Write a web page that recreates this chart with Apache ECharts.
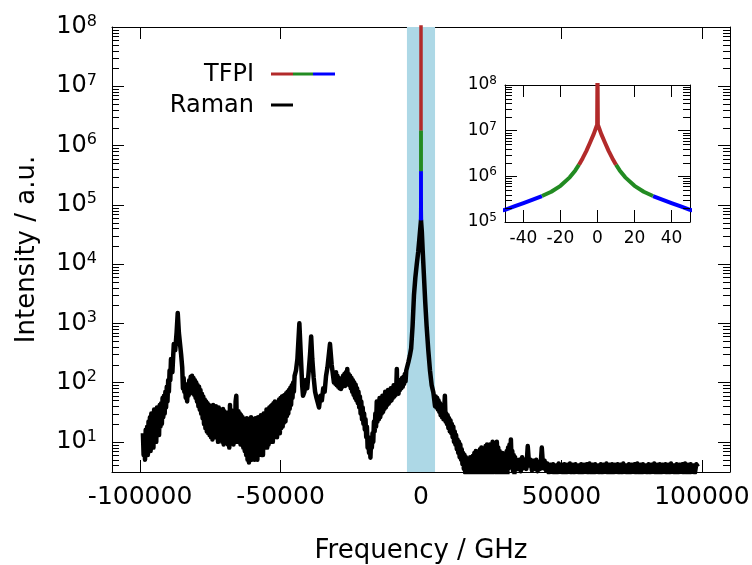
<!DOCTYPE html>
<html><head><meta charset="utf-8">
<script src="https://cdn.jsdelivr.net/npm/echarts@6/dist/echarts.min.js"></script>
<style>html,body{margin:0;padding:0;background:#fff}#c{width:752px;height:565px}</style>
</head><body><div id="c"></div>
<script>
const FONT = 'DejaVu Sans';

// Raman spectrum: [frequency GHz, intensity a.u.]
const ramanData = [
[-99000,14],[-98750,6],[-98500,12],[-98250,5],[-98000,16],[-97750,7],[-97500,18],[-97250,6],[-97000,22],[-96750,8],
[-96500,26],[-96250,7],[-96000,30],[-95750,9],[-95500,28],[-95250,8],[-95000,35],[-94750,11],[-94500,32],[-94250,10],
[-94000,38],[-93750,14],[-93500,36],[-93250,13],[-93000,42],[-92750,18],[-92500,45],[-92250,20],[-92000,55],[-91750,26],
[-91500,60],[-91250,30],[-91000,70],[-90750,38],[-90500,85],[-90250,48],[-90000,110],[-89750,70],[-89500,160],[-89250,110],
[-89000,250],[-88500,150],[-88000,450],[-87500,350],[-87000,700],[-86600,1500],[-86200,700],[-85800,650],[-85400,300],[-85000,180],
[-84750,80],[-84500,120],[-84250,70],[-84000,90],[-83750,55],[-83500,75],[-83250,48],[-83000,95],[-82750,60],[-82500,110],
[-82250,65],[-82000,125],[-81750,75],[-81500,130],[-81250,70],[-81000,120],[-80750,62],[-80500,110],[-80250,55],[-80000,100],
[-79750,48],[-79500,90],[-79250,40],[-79000,85],[-78750,35],[-78500,75],[-78250,30],[-78000,65],[-77750,25],[-77500,58],
[-77250,20],[-77000,52],[-76750,17],[-76500,48],[-76250,15],[-76000,45],[-75750,14],[-75500,42],[-75250,13],[-75000,40],
[-74750,12],[-74500,38],[-74250,11],[-74000,42],[-73750,14],[-73500,36],[-73250,12],[-73000,40],[-72750,13],[-72500,35],
[-72250,10],[-72000,38],[-71750,12],[-71500,34],[-71250,11],[-71000,32],[-70750,10],[-70500,36],[-70250,9],[-70000,33],
[-69750,12],[-69500,30],[-69250,10],[-69000,31],[-68750,9],[-68500,28],[-68250,8],[-68000,42],[-67750,11],[-67500,34],
[-67250,10],[-67000,32],[-66750,9],[-66500,30],[-66250,10],[-66000,48],[-65750,60],[-65500,12],[-65250,10],[-65000,33],
[-64750,12],[-64500,30],[-64250,9],[-64000,28],[-63750,10],[-63500,26],[-63250,8],[-63000,24],[-62750,7],[-62500,22],
[-62250,6],[-62000,25],[-61750,5],[-61500,20],[-61250,4.5],[-61000,24],[-60750,6],[-60500,26],[-60250,5],[-60000,22],
[-59750,6],[-59500,20],[-59250,5],[-59000,25],[-58750,7],[-58500,22],[-58250,5],[-58000,26],[-57750,6],[-57500,24],
[-57250,7],[-57000,28],[-56750,6],[-56500,25],[-56250,6],[-56000,30],[-55750,8],[-55500,26],[-55250,9],[-55000,35],
[-54750,8],[-54500,32],[-54250,9],[-54000,38],[-53750,10],[-53500,40],[-53250,11],[-53000,42],[-52750,10],[-52500,45],
[-52250,12],[-52000,48],[-51750,13],[-51500,46],[-51250,12],[-51000,44],[-50750,15],[-50500,52],[-50250,14],[-50000,55],
[-49750,17],[-49500,58],[-49250,18],[-49000,60],[-48750,21],[-48500,62],[-48250,22],[-48000,66],[-47750,27],[-47500,70],
[-47250,30],[-47000,75],[-46750,36],[-46500,82],[-46250,42],[-46000,90],[-45750,55],[-45500,100],[-45250,70],[-45000,130],
[-44500,160],[-44000,250],[-43300,1000],[-42800,300],[-42300,90],[-42000,60],[-41500,70],[-41000,110],[-40500,80],[-40000,150],
[-39500,300],[-39100,600],[-38700,250],[-38200,120],[-37700,70],[-37200,55],[-36700,45],[-36300,38],[-35800,60],[-35300,50],
[-34800,80],[-34300,70],[-33800,130],[-33300,180],[-32400,450],[-31800,200],[-31300,130],[-31000,100],[-30750,140],[-30500,95],
[-30250,150],[-30000,90],[-29750,130],[-29500,85],[-29250,120],[-29000,80],[-28750,115],[-28500,78],[-28250,110],[-28000,85],
[-27750,130],[-27500,90],[-27250,140],[-27000,88],[-26750,150],[-26500,95],[-26250,170],[-26000,100],[-25750,140],[-25500,90],
[-25250,130],[-25000,80],[-24750,120],[-24500,70],[-24250,110],[-24000,62],[-23750,100],[-23500,55],[-23250,92],[-23000,50],
[-22750,80],[-22500,45],[-22250,70],[-22000,38],[-21750,58],[-21500,30],[-21250,48],[-21000,24],[-20750,38],[-20500,20],
[-20250,30],[-20000,16],[-19750,24],[-19500,12],[-19250,18],[-19000,8],[-18750,12],[-18500,6.5],[-18250,10],[-18000,5.4],
[-17750,11],[-17500,8],[-17250,14],[-17000,10],[-16750,22],[-16500,15],[-16250,30],[-16000,18],[-15750,48],[-15500,22],
[-15250,45],[-15000,24],[-14750,55],[-14500,26],[-14250,50],[-14000,30],[-13750,60],[-13500,32],[-13250,58],[-13000,36],
[-12750,70],[-12500,38],[-12250,66],[-12000,42],[-11750,75],[-11500,44],[-11250,72],[-11000,48],[-10750,80],[-10500,50],
[-10250,78],[-10000,55],[-9750,90],[-9500,58],[-9250,85],[-9000,62],[-8750,100],[-8600,170],[-8450,70],[-8250,95],
[-8000,65],[-7750,110],[-7500,75],[-7250,105],[-7000,80],[-6750,120],[-6500,85],[-6250,125],[-6000,95],[-5750,140],
[-5500,105],[-5250,160],[-5000,150],[-4500,220],[-4000,280],[-3500,380],[-3000,900],[-2500,3000],[-2000,6000],[-1500,10000],
[-1000,16000],[-600,26000],[-300,38000],[0,55000],[300,35000],[600,17000],[1000,7000],[1500,2300],[2000,900],[2600,350],
[3200,160],[3800,90],[4400,68],[5000,40],[5250,58],[5500,38],[5750,55],[6000,35],[6250,50],[6500,32],
[6750,45],[7000,28],[7250,42],[7500,26],[7750,38],[8000,24],[8250,35],[8500,60],[8750,22],[9000,30],
[9250,20],[9500,28],[9750,17],[10000,25],[10250,15],[10500,23],[10750,14],[11000,20],[11250,12],[11500,18],
[11750,10],[12000,15],[12250,9],[12500,13],[12750,7.5],[13000,11],[13250,6.5],[13500,10],[13750,5.5],[14000,9],
[14250,5],[14500,7.5],[14750,4.2],[15000,6.5],[15250,3.5],[15500,6],[15750,3],[16000,5.5],[16250,2.8],[16500,5],
[16750,2.6],[17000,5.2],[17250,2.5],[17500,5.5],[17750,3],[18000,5],[18250,2.6],[18500,5.8],[18750,2.8],[19000,6.5],
[19250,3],[19500,7],[19750,2.7],[20000,6],[20250,3.2],[20500,6.8],[20750,2.5],[21000,7.5],[21250,3],[21500,8],
[21750,3.4],[22000,7.5],[22250,2.8],[22500,7],[22750,3.1],[23000,8.5],[23250,2.7],[23500,9],[23750,3.3],[24000,8.5],
[24250,2.9],[24500,9],[24750,3.5],[25000,8],[25250,2.6],[25500,10],[25750,3.2],[26000,8.5],[26250,3.6],[26500,9],
[26750,3],[27000,10],[27250,3.5],[27500,8],[27750,2.8],[28000,7],[28250,3.3],[28500,6.5],[28750,2.6],[29000,6.5],
[29250,3.1],[29500,6.2],[29750,2.8],[30000,6],[30250,3.4],[30500,7],[30750,2.9],[31000,8],[31250,3.6],[31500,9],
[31750,4],[32000,11],[32250,4.5],[32500,7],[32750,3.2],[33000,6],[33250,2.9],[33500,5.5],[33750,3.4],[34000,5],
[34500,3.5],[35000,5],[35500,3.2],[36000,5.5],[36500,3.6],[37000,5],[37500,3.5],[38000,8.5],[38500,4],
[39000,5],[39500,3.3],[40000,4.8],[40500,3.5],[41000,5],[41500,3.2],[42000,4.6],[42500,3.5],[43000,8],[43500,3.6],
[44000,4.8],[44500,3.3],[45000,4.3],[45500,3.0],[46000,4.1],[46500,3.1],[47000,4.2],[47500,2.9],[48000,4.0],[48500,3.0],
[49000,4.3],[49500,3.1],[50000,4.1],[50500,3.0],[51000,4.2],[51500,2.9],[52000,4.1],[52500,3.1],[53000,4.3],[53500,3.0],
[54000,4.1],[54500,3.0],[55000,4.2],[55500,3.1],[56000,4.0],[56500,2.9],[57000,4.2],[57500,3.0],[58000,4.1],[58500,3.1],
[59000,4.2],[59500,3.0],[60000,4.3],[60500,3.0],[61000,4.1],[61500,2.9],[62000,4.2],[62500,3.1],[63000,4.0],[63500,3.0],
[64000,4.2],[64500,3.0],[65000,4.1],[65500,3.1],[66000,4.3],[66500,3.0],[67000,4.1],[67500,2.9],[68000,4.2],[68500,3.0],
[69000,4.1],[69500,3.1],[70000,4.2],[70500,3.0],[71000,4.1],[71500,3.0],[72000,4.3],[72500,3.1],[73000,4.0],[73500,2.9],
[74000,4.2],[74500,3.0],[75000,4.1],[75500,3.1],[76000,4.2],[76500,3.0],[77000,4.3],[77500,3.0],[78000,4.1],[78500,2.9],
[79000,4.2],[79500,3.1],[80000,4.0],[80500,3.0],[81000,4.2],[81500,3.0],[82000,4.1],[82500,3.1],[83000,4.3],[83500,3.0],
[84000,4.1],[84500,2.9],[85000,4.2],[85500,3.0],[86000,4.1],[86500,3.1],[87000,4.2],[87500,3.0],[88000,4.1],[88500,3.0],
[89000,4.3],[89500,3.1],[90000,4.0],[90500,2.9],[91000,4.2],[91500,3.0],[92000,4.1],[92500,3.1],[93000,4.2],[93500,3.0],
[94000,4.3],[94500,3.0],[95000,4.1],[95500,2.9],[96000,4.2],[96500,3.1],[97000,4.0],[97500,3.0],[98000,4.2],[98600,3.8]
];

// TFPI spectrum pieces: [frequency GHz, intensity a.u.]
const tfpiRed = [[-10,1.8e6],[-8,2.5e6],[-6,3.6e6],[-4,5.5e6],[-2,8.5e6],[-1,1.1e7],[-0.2,1.35e7],[0,3e8],[0.2,1.35e7],[1,1.1e7],[2,8.5e6],[4,5.5e6],[6,3.6e6],[8,2.5e6],[10,1.8e6]];
const tfpiGreenL = [[-30,3.7e5],[-25,4.6e5],[-20,6.2e5],[-15,9.5e5],[-12,1.35e6],[-10,1.8e6]];
const tfpiGreenR = [[10,1.8e6],[12,1.35e6],[15,9.5e5],[20,6.2e5],[25,4.6e5],[30,3.7e5]];
const tfpiBlueL = [[-150,5.5e4],[-100,8.5e4],[-70,1.3e5],[-50,1.85e5],[-45,2.2e5],[-40,2.6e5],[-35,3.1e5],[-30,3.7e5]];
const tfpiBlueR = [[30,3.7e5],[35,3.1e5],[40,2.6e5],[45,2.2e5],[50,1.85e5],[70,1.3e5],[100,8.5e4],[150,5.5e4]];

const filterBand = [-5000, 5000];
const minorMantissas = [2,3,4,5,6,7,8,9];
const mainDecades = [1,10,100,1e3,1e4,1e5,1e6,1e7];
const insetDecades = [1e5,1e6,1e7];

const MAIN_X = [-110000, 110000], MAIN_Y = [3.1, 1e8];
const INSET_X = [-50, 50], INSET_Y = [1e5, 1e8];

const RED = '#b22a2a', GREEN = '#228b22', BLUE = '#0000ff';

function minorList(decades, lo, hi) {
  const out = [];
  decades.forEach(d => minorMantissas.forEach(m => { const v = m * d; if (v > lo && v < hi) out.push(v); }));
  return out;
}
const mainMinor = minorList(mainDecades, MAIN_Y[0], MAIN_Y[1]);
const insetMinor = minorList(insetDecades, INSET_Y[0], INSET_Y[1]);

function powLabel(v) {
  const e = Math.round(Math.log10(v));
  if (Math.abs(v / Math.pow(10, e) - 1) > 1e-6) return '';
  return '{b|10}{s|' + e + '}';
}

function xAxisDef(grid, pos, range, show, fs, margin) {
  return {
    type: 'value', gridIndex: grid, position: pos, min: range[0], max: range[1],
    axisLine: { show: true, onZero: false, lineStyle: { color: '#000', width: 1 } },
    axisTick: { show: true, inside: true, length: 12, lineStyle: { color: '#000' } },
    splitLine: { show: false },
    axisLabel: {
      show: show, fontFamily: FONT, fontSize: fs, color: '#000', margin: margin,
      showMinLabel: false, showMaxLabel: false,
      formatter: v => (Math.abs(v) < Math.abs(range[1]) - 1e-9 ? String(v) : '')
    }
  };
}
function yAxisDef(grid, pos, range, show, fs, sfs, margin) {
  return {
    type: 'log', logBase: 10, gridIndex: grid, position: pos, min: range[0], max: range[1],
    axisLine: { show: true, onZero: false, lineStyle: { color: '#000', width: 1 } },
    axisTick: { show: true, inside: true, length: 12, lineStyle: { color: '#000' } },
    splitLine: { show: false }, minorTick: { show: false },
    axisLabel: {
      show: show, fontFamily: FONT, color: '#000', margin: margin,
      formatter: powLabel,
      rich: {
        b: { fontFamily: FONT, fontSize: fs, color: '#000' },
        s: { fontFamily: FONT, fontSize: sfs, color: '#000', verticalAlign: 'top', padding: [0, 0, Math.round(fs * 0.45), 0] }
      }
    }
  };
}

function minorSeries(xi, yi, values, xr) {
  return {
    type: 'custom', xAxisIndex: xi, yAxisIndex: yi, silent: true, z: 5, clip: false,
    data: values.map(v => [0, v]),
    renderItem: (params, api) => {
      const v = api.value(1);
      const pl = api.coord([xr[0], v]);
      const pr = api.coord([xr[1], v]);
      const y = Math.round(pl[1]) + 0.5;
      return { type: 'group', children: [
        { type: 'line', shape: { x1: pl[0], y1: y, x2: pl[0] + 7, y2: y }, style: { stroke: '#000', lineWidth: 1 } },
        { type: 'line', shape: { x1: pr[0] - 7, y1: y, x2: pr[0], y2: y }, style: { stroke: '#000', lineWidth: 1 } }
      ] };
    }
  };
}

function lineSeries(xi, yi, data, color, w, z) {
  return { type: 'line', xAxisIndex: xi, yAxisIndex: yi, data: data, showSymbol: false, symbol: 'none',
    lineStyle: { color: color, width: w, join: 'round' }, itemStyle: { color: color }, clip: true, z: z, silent: true };
}

const chart = echarts.init(document.getElementById('c'), null, { renderer: 'canvas' });
chart.setOption({
  animation: false,
  backgroundColor: '#fff',
  grid: [
    { left: 112, top: 27, width: 618, height: 445, containLabel: false, outerBoundsMode: 'none' },
    { left: 505, top: 85, width: 185, height: 137, containLabel: false, outerBoundsMode: 'none', backgroundColor: '#fff', show: true, borderWidth: 0 }
  ],
  xAxis: [
    Object.assign(xAxisDef(0, 'bottom', MAIN_X, true, 25, 13), {
      name: 'Frequency / GHz', nameLocation: 'middle', nameGap: 66,
      nameTextStyle: { fontFamily: FONT, fontSize: 26, color: '#000' }
    }),
    xAxisDef(0, 'top', MAIN_X, false, 25, 13),
    xAxisDef(1, 'bottom', INSET_X, true, 17, 8),
    xAxisDef(1, 'top', INSET_X, false, 17, 8)
  ],
  yAxis: [
    Object.assign(yAxisDef(0, 'left', MAIN_Y, true, 24, 16, 15), {
      name: 'Intensity / a.u.', nameLocation: 'middle', nameGap: 72,
      nameTextStyle: { fontFamily: FONT, fontSize: 26, color: '#000' }
    }),
    yAxisDef(0, 'right', MAIN_Y, false, 24, 16, 15),
    yAxisDef(1, 'left', INSET_Y, true, 17, 12, 8),
    yAxisDef(1, 'right', INSET_Y, false, 17, 12, 8)
  ],
  graphic: [
    { type: 'text', right: 752 - 254, top: 63, style: { text: 'TFPI', font: '24px "DejaVu Sans"', fill: '#000' } },
    { type: 'text', right: 752 - 254, top: 94, style: { text: 'Raman', font: '24px "DejaVu Sans"', fill: '#000' } },
    { type: 'line', shape: { x1: 271, y1: 74, x2: 293, y2: 74 }, style: { stroke: RED, lineWidth: 3 } },
    { type: 'line', shape: { x1: 293, y1: 74, x2: 313, y2: 74 }, style: { stroke: GREEN, lineWidth: 3 } },
    { type: 'line', shape: { x1: 313, y1: 74, x2: 335, y2: 74 }, style: { stroke: BLUE, lineWidth: 3 } },
    { type: 'line', shape: { x1: 271, y1: 105, x2: 293, y2: 105 }, style: { stroke: '#000', lineWidth: 3 } }
  ],
  series: [
    { type: 'line', xAxisIndex: 0, yAxisIndex: 0, data: [], z: -1, silent: true,
      markArea: { silent: true, itemStyle: { color: '#add8e6', opacity: 1 },
        data: [[{ xAxis: filterBand[0] }, { xAxis: filterBand[1] }]] } },
    lineSeries(0, 0, ramanData, '#000', 4.5, 3),
    lineSeries(0, 0, tfpiBlueL, BLUE, 3.5, 4),
    lineSeries(0, 0, tfpiBlueR, BLUE, 3.5, 4),
    lineSeries(0, 0, tfpiGreenL, GREEN, 3.5, 4),
    lineSeries(0, 0, tfpiGreenR, GREEN, 3.5, 4),
    lineSeries(0, 0, tfpiRed, RED, 3.5, 4),
    lineSeries(2, 2, tfpiBlueL, BLUE, 4, 4),
    lineSeries(2, 2, tfpiBlueR, BLUE, 4, 4),
    lineSeries(2, 2, tfpiGreenL, GREEN, 4, 4),
    lineSeries(2, 2, tfpiGreenR, GREEN, 4, 4),
    lineSeries(2, 2, tfpiRed, RED, 4, 4),
    minorSeries(0, 0, mainMinor, MAIN_X),
    minorSeries(2, 2, insetMinor, INSET_X)
  ]
});
</script></body></html>
